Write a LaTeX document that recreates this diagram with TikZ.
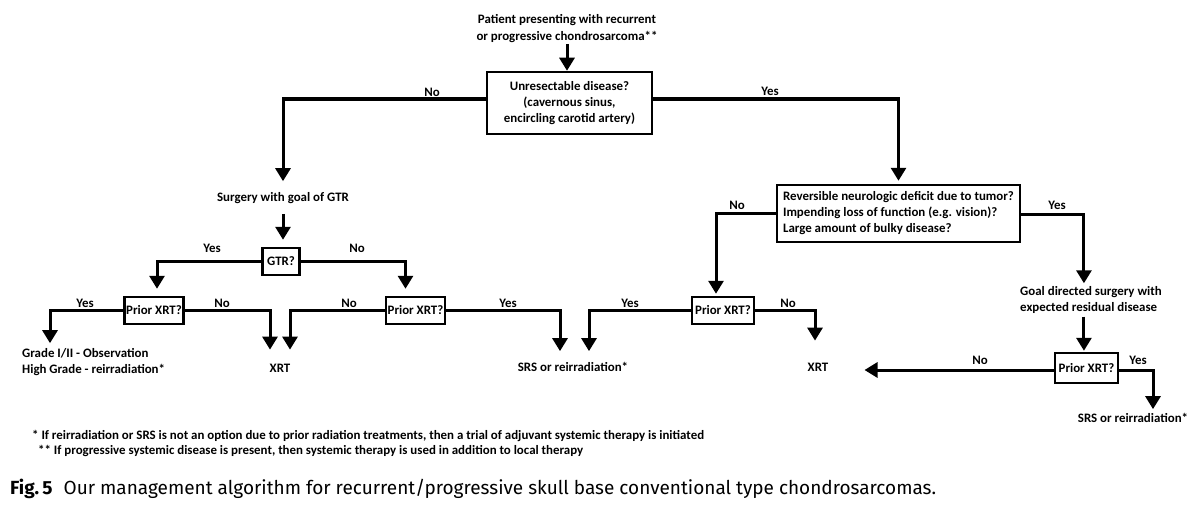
\documentclass[tikz,border=0pt]{standalone}
\usepackage{fontspec}
\setmainfont{Carlito}
\newfontfamily\capfont{Fira Sans}
\usetikzlibrary{arrows.meta}
\begin{document}
\begin{tikzpicture}[x=1pt,y=-1pt,
  font=\bfseries\fontsize{12.9}{16}\selectfont,
  box/.style={draw,line width=2.5pt,inner sep=0pt,align=center},
  txt/.style={inner sep=0pt,align=center},
  lbl/.style={inner sep=0pt},
  arr/.style={-{Triangle[length=13pt,width=15pt]},line width=3pt}]
\useasboundingbox[fill=white] (0,0) rectangle (1200,511);

% top
\node[txt,font=\bfseries\fontsize{12.9}{17}\selectfont] (pt) at (567,28.5) {Patient presenting with recurrent\\or progressive chondrosarcoma**};
\node[box,minimum width=165pt,minimum height=62pt] (b1) at (569.5,103) {Unresectable disease?\\(cavernous sinus,\\encircling carotid artery)};
\draw[arr,shorten <=1pt] (pt.south) -- (pt.south |- b1.north);

% left branch
\node[txt] (surg) at (283,198) {Surgery with goal of GTR};
\draw[arr,shorten >=11pt] ([yshift=4pt]b1.west) -| (surg.north);
\node[box,minimum width=37pt,minimum height=27pt] (gtr) at (281,261.5) {GTR?};
\draw[arr,shorten <=10pt,shorten >=7pt] (surg.south) -- (surg.south |- gtr.north);

\node[box,minimum width=59pt,minimum height=27pt] (px1) at (154,310.5) {Prior XRT?};
\node[box,minimum width=59pt,minimum height=27pt] (px2) at (415.5,310.5) {Prior XRT?};
\draw[arr,shorten >=7pt] (gtr.west) -| ([xshift=3pt]px1.north);
\draw[arr,shorten >=7pt] (gtr.east) -| ([xshift=-10pt]px2.north);

\node[txt,align=left,anchor=west] (grade) at (22,362) {Grade I/II - Observation\\High Grade - reirradiation*};
\node[txt] (xrtL) at (280,368) {XRT};
\node[txt] (srsL) at (573,367) {SRS or reirradiation*};
\draw[arr,shorten >=5pt] (px1.west) -| ([xshift=28pt]grade.north west);
\draw[arr,shorten >=14pt] (px1.east) -| ([xshift=-10pt]xrtL.north);
\draw[arr,shorten >=14pt] (px2.west) -| ([xshift=10pt]xrtL.north);
\draw[arr,shorten >=11pt] (px2.east) -| ([xshift=-13pt]srsL.north);

% right branch
\node[box,minimum height=57pt,minimum width=243pt,inner xsep=6pt,align=left] (b3) at (898.5,213.5) {Reversible neurologic deficit due to tumor?\\Impending loss of function (e.g. vision)?\\Large amount of bulky disease?};
\draw[arr,shorten >=3pt] ([yshift=4pt]b1.east) -| (b3.north);

\node[box,minimum width=62pt,minimum height=27pt] (px4) at (723,310.5) {Prior XRT?};
\node[txt] (xrtR) at (818,367) {XRT};
\draw[arr,shorten >=2pt] (b3.west) -| ([xshift=-7pt]px4.north);
\draw[arr,shorten >=11pt] (px4.west) -| ([xshift=16pt]srsL.north);
\draw[arr,shorten >=22pt] (px4.east) -| ([xshift=-3pt]xrtR.north);

\node[txt,align=left,anchor=west] (goal) at (1020,300) {Goal directed surgery with\\expected residual disease};
\draw[arr,shorten >=3pt] ([yshift=-1pt]b3.east) -| ([xshift=-7pt]goal.north);
\node[box,minimum width=63pt,minimum height=30pt] (px5) at (1086.5,368) {Prior XRT?};
\draw[arr,shorten <=3pt,shorten >=1pt] ([xshift=-7pt]goal.south) -- ([xshift=-7pt]goal.south |- px5.north);
\node[txt] (srsR) at (1133,418) {SRS or reirradiation*};
\draw[arr,shorten >=36pt] ([yshift=-2pt]px5.west) -- ([yshift=-2pt]px5.west -| xrtR.east);
\draw[arr,shorten >=4pt] ([yshift=-2pt]px5.east) -| ([xshift=20pt]srsR.north);

% labels
\foreach \p/\t in {{432,92.5}/No,{770,91.5}/Yes,{212,248.5}/Yes,{357,248.5}/No,{85,303.5}/Yes,{222,303.5}/No,{349,303.5}/No,{508,303.5}/Yes,{737,205.5}/No,{1057,205.5}/Yes,{630,303.5}/Yes,{788,303.5}/No,{980,360.5}/No,{1138,360.5}/Yes}
  \node[lbl] at (\p) {\t};

% footnotes
\node[lbl,anchor=west] (fn1) at (32,436) {* If reirradiation or SRS is not an option due to prior radiation treatments, then a trial of adjuvant systemic therapy is initiated};
\node[lbl,anchor=west] (fn2) at (38,451) {** If progressive systemic disease is present, then systemic therapy is used in addition to local therapy};

% caption
\node[lbl,anchor=west,font=\capfont\fontsize{19}{22}\selectfont] (cap) at (10,489) {\textbf{Fig.\,5}\hspace{11pt}Our management algorithm for recurrent/progressive skull base conventional type chondrosarcomas.};
\end{tikzpicture}
\end{document}
